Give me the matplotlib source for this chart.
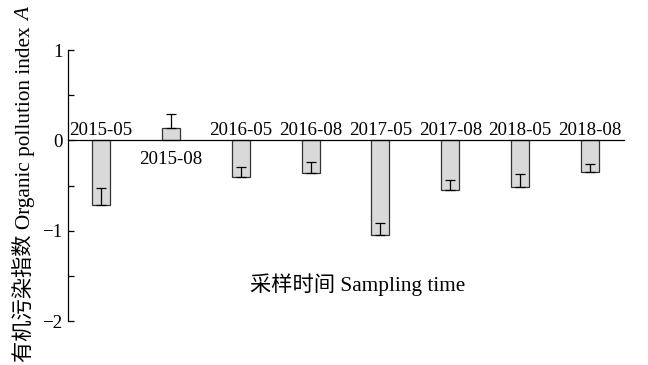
import matplotlib
matplotlib.use("Agg")
import matplotlib.pyplot as plt
from matplotlib.ticker import MultipleLocator

plt.rcParams['font.family'] = ['Liberation Serif', 'Noto Sans CJK SC']
plt.rcParams['axes.unicode_minus'] = True

categories = ['2015-05', '2015-08', '2016-05', '2016-08', '2017-05', '2017-08', '2018-05', '2018-08']
values = [-0.714, 0.133, -0.41, -0.365, -1.053, -0.549, -0.516, -0.354]
errors = [0.19, 0.16, 0.11, 0.13, 0.14, 0.11, 0.14, 0.09]
y_ticks = [-2, -1, 0, 1]

fs = 13.6
lab_fs = 15.3
W, H = 648, 365
fig = plt.figure(figsize=(6.48, 3.65), dpi=100)
ax = fig.add_axes([68/W, 1-321/H, (624-68)/W, (321-50)/H])

x = list(range(1, len(categories)+1))
ax.bar(x, values, width=0.257, color='#d9d9d9', edgecolor='#333333', linewidth=0.9, zorder=2)
ax.errorbar(x, values, yerr=[[0]*len(errors), errors], fmt='none', ecolor='black',
            elinewidth=0.9, capsize=3.8, capthick=0.9, zorder=3)

for xi, cat, v in zip(x, categories, values):
    if v > 0:
        ax.text(xi, -0.265, cat, ha='center', va='baseline', fontsize=fs)
    else:
        ax.text(xi, 0.055, cat, ha='center', va='baseline', fontsize=fs)

ax.text(4.67, -1.665, '采样时间 Sampling time', ha='center', va='baseline', fontsize=lab_fs)

ax.set_xlim(0.529, 8.486)
ax.set_ylim(-2, 1)
ax.set_yticks(y_ticks)
ax.yaxis.set_minor_locator(MultipleLocator(0.5))
ax.tick_params(axis='y', which='both', direction='in', length=4, width=0.9, labelsize=fs, pad=4)
ax.set_xticks([])
ax.spines['top'].set_visible(False)
ax.spines['right'].set_visible(False)
ax.spines['bottom'].set_position(('data', 0))
ax.spines['bottom'].set_linewidth(0.9)
ax.spines['left'].set_linewidth(0.9)

# y label: upright part + italic A
xb = 30 / W
y0 = 1 - 362 / H
t1 = fig.text(xb, y0, '有机污染指数 Organic pollution index', rotation=90,
              rotation_mode='anchor', ha='left', va='baseline', fontsize=lab_fs)
fig.canvas.draw()
ext = t1.get_window_extent(renderer=fig.canvas.get_renderer())
space_px = 0.25 * lab_fs * 100 / 72
yA = (y0 * H + ext.height + space_px) / H
fig.text(xb, yA, 'A', rotation=90, rotation_mode='anchor', ha='left', va='baseline',
         fontsize=lab_fs, style='italic')

fig.savefig('out.png', dpi=100)
